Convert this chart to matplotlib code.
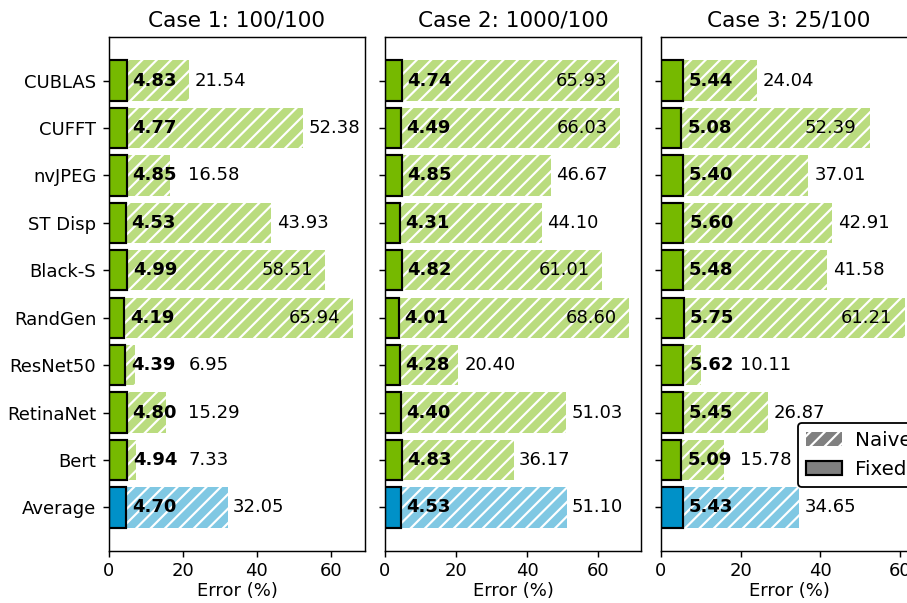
import numpy as np
import matplotlib
matplotlib.use('Agg')
import matplotlib.pyplot as plt
from matplotlib.patches import Patch

# Дані
benchmarks = ['CUBLAS', 'CUFFT', 'nvJPEG', 'ST Disp', 'Black-S', 'RandGen',
              'ResNet50', 'RetinaNet', 'Bert', 'Average']
case_titles = ['Case 1: 100/100', 'Case 2: 1000/100', 'Case 3: 25/100']

fixed_case1 = [4.83, 4.77, 4.85, 4.53, 4.99, 4.19, 4.39, 4.80, 4.94, 4.70]
naive_case1 = [21.54, 52.38, 16.58, 43.93, 58.51, 65.94, 6.95, 15.29, 7.33, 32.05]
fixed_case2 = [4.74, 4.49, 4.85, 4.31, 4.82, 4.01, 4.28, 4.40, 4.83, 4.53]
naive_case2 = [65.93, 66.03, 46.67, 44.10, 61.01, 68.60, 20.40, 51.03, 36.17, 51.10]
fixed_case3 = [5.44, 5.08, 5.40, 5.60, 5.48, 5.75, 5.62, 5.45, 5.09, 5.43]
naive_case3 = [24.04, 52.39, 37.01, 42.91, 41.58, 61.21, 10.11, 26.87, 15.78, 34.65]

fixed_all = [fixed_case1, fixed_case2, fixed_case3]
naive_all = [naive_case1, naive_case2, naive_case3]

green_dark = '#76b900'
green_light = '#badc7f'
blue_dark = '#0091c8'
blue_light = '#80c8e3'

plt.rcParams['hatch.linewidth'] = 1.2

fig = plt.figure(figsize=(907 / 130, 603 / 130), dpi=130)
lefts = [109 / 907, 385 / 907, 661 / 907]
width = 256 / 907
bottom = 1 - 551 / 603
height = (551 - 37) / 603

y = np.arange(len(benchmarks))[::-1]

for k in range(3):
    ax = fig.add_axes([lefts[k], bottom, width, height])
    fixed = fixed_all[k]
    naive = naive_all[k]
    dark = [green_dark] * 9 + [blue_dark]
    light = [green_light] * 9 + [blue_light]

    ax.barh(y, naive, height=0.85, color=light, edgecolor='white',
            linewidth=0, hatch='///')
    ax.barh(y, fixed, height=0.85, color=dark, edgecolor='black', linewidth=1.2)

    nmax = max(naive)
    for i in range(len(benchmarks)):
        ax.text(fixed[i] + 1.5, y[i], f'{fixed[i]:.2f}', ha='left', va='center',
                fontweight='bold', fontsize=10)
        if naive[i] / nmax > 0.8:
            ax.text(naive[i] - 3.3, y[i], f'{naive[i]:.2f}', ha='right',
                    va='center', fontsize=10)
        else:
            x = max(naive[i] + 1.5, 0.31 * nmax * 1.05)
            ax.text(x, y[i], f'{naive[i]:.2f}', ha='left', va='center',
                    fontsize=10)

    ax.set_title(case_titles[k], fontsize=12)
    ax.set_xlabel('Error (%)', labelpad=1)
    ax.tick_params(axis='x', pad=2.5)
    ax.set_yticks(y)
    if k == 0:
        ax.set_yticklabels(benchmarks)
    else:
        ax.set_yticklabels([])
    ax.set_xticks([0, 20, 40, 60])

    if k == 2:
        handles = [Patch(facecolor='gray', edgecolor='white', linewidth=0, hatch='///'),
                   Patch(facecolor='gray', edgecolor='black', linewidth=1.2)]
        ax.legend(handles, ['Naive', 'Fixed'], loc='center right',
                  bbox_to_anchor=(1.05, 0.187), framealpha=1, edgecolor='black',
                  fontsize=11, handlelength=1.8, handletextpad=0.7)

fig.savefig('out.png', dpi=130)
